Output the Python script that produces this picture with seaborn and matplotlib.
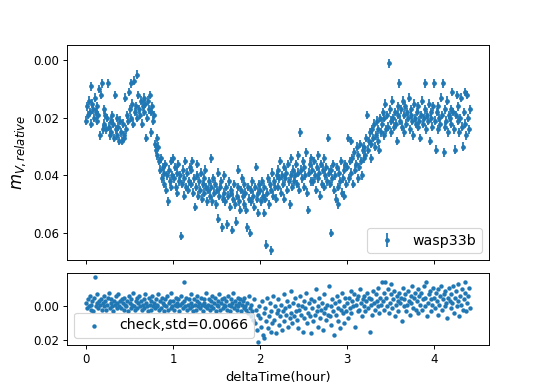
import numpy as np
import matplotlib
matplotlib.use("Agg")
import matplotlib.pyplot as plt
import seaborn as sns

# observation cadence (hours)
t_start = 0.0
cadence = 0.01

# wasp33b relative magnitude (mmag), one row per 0.2 h
wasp_mmag = [
    21, 16, 19, 14, 18, 9, 22, 15, 17, 20, 13, 18, 16, 21, 19, 10, 26, 12, 8, 24,
    17, 22, 19, 24, 20, 8, 23, 26, 21, 25, 19, 22, 27, 12, 24, 20, 26, 23, 28, 21,
    25, 28, 22, 26, 27, 13, 24, 19, 21, 11, 17, 20, 8, 15, 22, 7, 18, 16, 20, 5,
    12, 17, 19, 14, 22, 16, 13, 18, 15, 27, 20, 14, 17, 12, 25, 18, 16, 21, 19, 29,
    31, 27, 33, 30, 35, 38, 34, 41, 37, 43, 39, 36, 45, 40, 49, 38, 42, 35, 44, 40,
    34, 41, 37, 44, 39, 46, 36, 42, 40, 61, 43, 38, 47, 41, 35, 44, 39, 45, 42, 37,
    43, 38, 35, 46, 41, 51, 44, 40, 36, 47, 42, 45, 39, 48, 43, 41, 46, 38, 44, 49,
    45, 42, 47, 34, 44, 49, 41, 46, 43, 50, 45, 39, 55, 47, 44, 42, 58, 48, 40, 46,
    49, 44, 57, 47, 42, 51, 46, 45, 59, 48, 43, 50, 56, 47, 44, 38, 49, 52, 45, 41,
    47, 43, 50, 46, 52, 58, 44, 48, 60, 45, 49, 42, 47, 51, 44, 37, 48, 46, 53, 43,
    45, 49, 42, 47, 53, 44, 48, 64, 46, 41, 50, 43, 66, 45, 39, 47, 42, 44, 48, 40,
    38, 44, 41, 35, 46, 40, 43, 37, 48, 41, 39, 45, 36, 42, 50, 40, 34, 44, 38, 42,
    40, 36, 43, 33, 39, 45, 25, 38, 41, 35, 44, 37, 40, 32, 46, 52, 39, 36, 42, 34,
    38, 42, 35, 40, 45, 37, 33, 41, 39, 47, 36, 43, 38, 34, 44, 40, 37, 42, 27, 39,
    43, 38, 60, 41, 36, 45, 40, 48, 37, 44, 50, 39, 42, 35, 46, 41, 38, 47, 36, 43,
    37, 27, 41, 35, 28, 39, 34, 43, 32, 38, 36, 30, 41, 33, 37, 29, 35, 40, 31, 34,
    30, 33, 27, 19, 31, 28, 25, 34, 29, 24, 27, 22, 30, 26, 21, 28, 24, 31, 20, 25,
    22, 18, 26, 20, 15, 24, 19, 23, 1, 17, 21, 25, 14, 20, 23, 18, 22, 28, 16, 19,
    8, 21, 17, 23, 14, 19, 25, 16, 22, 18, 20, 13, 24, 19, 17, 21, 26, 15, 20, 22,
    18, 23, 16, 21, 27, 19, 14, 22, 20, 8, 17, 24, 19, 21, 15, 28, 20, 18, 23, 16,
    8, 21, 31, 18, 24, 16, 20, 22, 13, 19, 8, 32, 23, 17, 21, 14, 25, 19, 20, 17,
    22, 11, 18, 24, 31, 19, 12, 21, 16, 25, 20, 13, 23, 30, 18, 11, 22, 26, 12, 20,
    24, 17,
]
wasp_err = 0.0015

# check star residuals (mmag)
check_mmag = [
    -2, 1, -4, 0, -6, 2, -1, -3, 3, -5, -17, 0, -2, -7, 1, -3, -1, -4, 2, -2,
    -6, 0, -3, 2, -1, -5, -8, 1, -2, -4, 0, 3, -3, -1, -6, 1, -2, -7, 0, -3,
    1, -4, -2, 2, -5, -1, 0, -3, 3, -6, -2, 1, -4, -1, -8, 0, 2, -3, -5, 1,
    -2, -6, 0, -3, 2, -1, -4, 1, -7, -2, 0, 3, -5, -1, 2, -3, -6, 0, -2, 1,
    -4, 0, -1, -7, 2, -3, 1, -5, -2, 3, -1, -4, 0, -6, 2, -2, -3, 1, -8, 0,
    -3, 2, -1, -5, 0, -2, -4, 3, -1, -6, -2, 1, -3, -14, 0, -5, 2, -1, -4, 1,
    -2, -7, 0, 3, -4, -1, 2, -3, -6, 0, -2, 1, -5, -1, 3, -4, -2, 0, -8, 1,
    -1, -4, 2, -3, 0, -6, 1, -2, -5, 3, -1, -3, 0, -7, 2, -2, -4, 1, -1, -5,
    0, -3, 2, -6, -1, 3, -4, 0, -2, -8, 1, -3, -1, 2, -5, 0, -2, -4, 3, -1,
    -3, 1, -5, 0, 2, -2, 4, -6, 1, 6, -1, 3, 8, -4, 10, 2, 14, 5, 21, 0,
    7, 12, -3, 17, 4, 19, 1, 9, -5, 13, 6, -2, 15, 3, 10, -6, 8, 0, 16, 4,
    2, -4, 11, 6, -1, 14, 3, -7, 9, 1, 5, -3, 12, 0, 7, -9, 4, 10, -2, 6,
    -5, 3, 8, -1, 13, 2, -6, 5, 0, 15, -3, 7, 1, -8, 10, 4, -2, 6, 16, -4,
    1, 9, -3, 5, -10, 3, 12, 0, -5, 7, 2, -2, 14, 4, -7, 1, 8, -1, 5, -12,
    6, 0, 11, -4, 3, 17, -2, 5, -6, 9, 1, -3, 13, 2, -8, 4, 0, 10, -5, 3,
    -2, 7, -5, 1, -9, 4, -3, 0, -7, 12, -1, -4, 3, -6, 2, -10, -2, 6, -4, 0,
    -6, 3, -3, -8, 1, -5, 15, -1, -4, 5, -9, -2, 2, -7, -3, 0, -11, 4, -5, -1,
    -14, -3, 2, -8, -14, -5, 0, -10, 4, -2, -7, -13, 1, -4, -9, 6, -1, -6, -3, 3,
    -8, -2, -5, 9, -11, 0, -4, -7, 3, -1, -9, -3, 5, -6, -2, -12, 1, -5, -8, 2,
    -3, -10, 4, -6, -1, -8, 2, -4, -12, 0, -5, -14, 6, -2, -7, -9, 3, -4, -1, -11,
    -5, 1, -8, -3, 5, -10, -1, -6, -12, 2, -4, -7, 0, -9, -2, 7, -5, -11, -3, 1,
    -7, -2, -12, 4, -5, -9, 0, -3, -13, 6, -6, -1, -10, 2, -4, -14, -8, 3, -2, -6,
    -11, 1,
]
check_label = "check,std=0.0066"

top_yticks = [0.00, 0.02, 0.04, 0.06]
bottom_yticks = [0.00, 0.02]
xticks = [0, 1, 2, 3, 4]

time = t_start + cadence * np.arange(len(wasp_mmag))
wasp = np.array(wasp_mmag) / 1000.0
check = np.array(check_mmag) / 1000.0

fig = plt.figure(figsize=(545 / 85, 389 / 85), dpi=85)
gs = fig.add_gridspec(2, 1, height_ratios=[3, 1], hspace=0.09,
                      left=0.123, right=0.897, top=0.884, bottom=0.113)
ax1 = fig.add_subplot(gs[0])
ax2 = fig.add_subplot(gs[1], sharex=ax1)

ax1.errorbar(time, wasp, yerr=wasp_err, fmt='.', color='C0', label='wasp33b')
ax1.set_ylim(0.0695, -0.0053)
ax1.set_yticks(top_yticks)
ax1.set_ylabel('$m_{V,relative}$', fontsize=14)
ax1.legend(loc='lower right', fontsize=12)
plt.setp(ax1.get_xticklabels(), visible=False)

sns.scatterplot(x=time, y=check, ax=ax2, color='C0', marker='o', s=14,
                linewidth=0, label=check_label)
ax2.set_ylim(0.0229, -0.0194)
ax2.set_yticks(bottom_yticks)
ax2.set_xticks(xticks)
ax2.set_xlim(-0.22, 4.63)
ax2.set_xlabel('deltaTime(hour)', fontsize=11)
ax2.set_ylabel('')
ax2.legend(loc='lower left', fontsize=12)

fig.savefig('out.png', dpi=85)
